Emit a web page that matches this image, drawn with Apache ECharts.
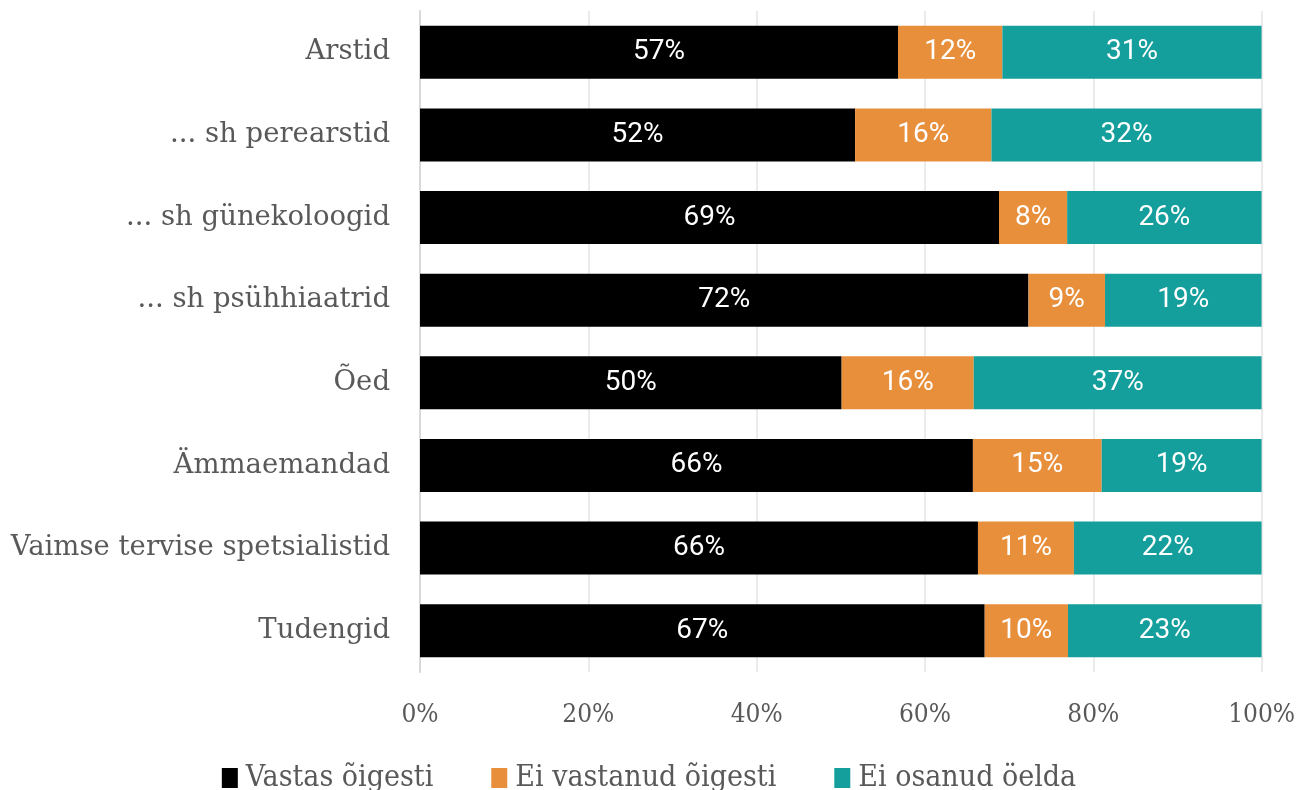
<!DOCTYPE html>
<html>
<head>
<meta charset="utf-8">
<script src="https://cdn.jsdelivr.net/npm/echarts@6/dist/echarts.min.js"></script>
<style>html,body{margin:0;padding:0;background:#fff}#c{width:1298px;height:790px}</style>
</head>
<body>
<div id="c"></div>
<script>
const categories = ['Arstid', '... sh perearstid', '... sh günekoloogid', '... sh psühhiaatrid', 'Õed', 'Ämmaemandad', 'Vaimse tervise spetsialistid', 'Tudengid'];
const seriesNames = ['Vastas õigesti', 'Ei vastanud õigesti', 'Ei osanud öelda'];
const correct = [56.8, 51.7, 68.8, 72.3, 50.1, 65.7, 66.3, 67.1];
const incorrect = [12.4, 16.2, 8.1, 9.1, 15.7, 15.3, 11.4, 9.9];
const dontKnow = [30.8, 32.1, 23.4, 18.6, 34.4, 19.0, 22.3, 23.0];
const correctLabels = ['57%', '52%', '69%', '72%', '50%', '66%', '66%', '67%'];
const incorrectLabels = ['12%', '16%', '8%', '9%', '16%', '15%', '11%', '10%'];
const dontKnowLabels = ['31%', '32%', '26%', '19%', '37%', '19%', '22%', '23%'];
const xTicks = [0, 20, 40, 60, 80, 100];

const colors = ['#000000', '#E88F3C', '#149E9C'];
const valueSets = [correct, incorrect, dontKnow];
const labelSets = [correctLabels, incorrectLabels, dontKnowLabels];

const chart = echarts.init(document.getElementById('c'));
chart.setOption({
  animation: false,
  grid: { left: 420, right: 36, top: 11, bottom: 118 },
  legend: {
    data: seriesNames,
    top: 758,
    left: 'center',
    itemWidth: 16,
    itemHeight: 20,
    itemGap: 58,
    icon: 'rect',
    textStyle: { fontFamily: 'DejaVu Serif Condensed', fontSize: 30, color: '#595959', padding: [0, 0, 0, 3] }
  },
  xAxis: {
    type: 'value',
    min: xTicks[0],
    max: xTicks[xTicks.length - 1],
    interval: 20,
    axisLine: { show: false },
    axisTick: { show: false },
    splitLine: { show: true, lineStyle: { color: '#ebebeb', width: 2 } },
    axisLabel: {
      formatter: v => v + '%',
      fontFamily: 'DejaVu Serif Condensed',
      fontSize: 26,
      color: '#595959',
      margin: 30
    }
  },
  yAxis: {
    type: 'category',
    data: categories,
    inverse: true,
    axisLine: { show: true, lineStyle: { color: '#d9d9d9', width: 2 } },
    axisTick: { show: false },
    axisLabel: {
      fontFamily: 'DejaVu Serif',
      fontSize: 27.5,
      color: '#595959',
      margin: 30
    }
  },
  series: seriesNames.map((name, i) => ({
    name: name,
    type: 'bar',
    stack: 'total',
    barWidth: 53,
    data: valueSets[i],
    itemStyle: { color: colors[i] },
    label: {
      show: true,
      position: 'inside',
      color: '#ffffff',
      fontFamily: 'Roboto',
      fontSize: 28,
      formatter: p => labelSets[i][p.dataIndex]
    }
  }))
});
</script>
</body>
</html>
